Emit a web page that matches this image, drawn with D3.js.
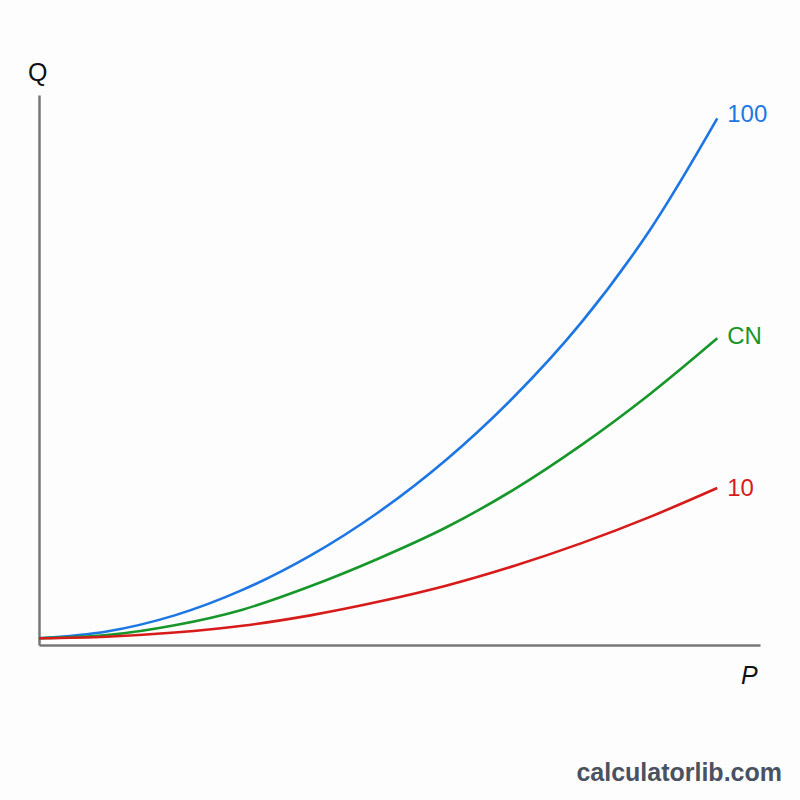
<!DOCTYPE html>
<html>
<head>
<meta charset="utf-8">
<script src="https://cdn.jsdelivr.net/npm/d3@7"></script>
<style>
  body { margin: 0; background: #fff; }
  text { font-family: "Liberation Sans", Arial, sans-serif; }
</style>
</head>
<body>
<div id="container"></div>
<script>
/* CONSTANTS AND GLOBALS */
const width = 800,
  height = 800,
  margin = { top: 95, bottom: 155, left: 39, right: 40 };

/* DATA */
const pValues = [0, 10, 20, 30, 40, 50, 60, 70, 80, 90, 100];
const q100 = [1.3, 2.6, 5.7, 10.6, 17.2, 25.5, 35.6, 47.7, 62.1, 79.7, 101.3];
const qCN  = [1.3, 1.9, 3.8, 6.8, 11.3, 16.6, 22.6, 29.9, 38.5, 48.2, 59.0];
const q10  = [1.3, 1.6, 2.4, 3.7, 5.7, 8.3, 11.4, 15.2, 19.6, 24.6, 30.2];
const seriesNames = ["100", "CN", "10"];
const seriesColors = ["#1c76e3", "#17962a", "#d71a1a"];

const series = [q100, qCN, q10].map((vals, i) => ({
  name: seriesNames[i],
  color: seriesColors[i],
  values: vals.map((q, j) => ({ p: pValues[j], q }))
}));

/* SCALES */
const xScale = d3.scaleLinear()
  .domain([0, 106.3])
  .range([margin.left, width - margin.right]);

const yScale = d3.scaleLinear()
  .domain([0, 105.8])
  .range([height - margin.bottom, margin.top]);

/* SVG */
const svg = d3.select("#container")
  .append("svg")
  .attr("width", width)
  .attr("height", height);

svg.append("rect")
  .attr("width", width)
  .attr("height", height)
  .attr("fill", "#fdfdfd");

// axes
const xAxis = d3.axisBottom(xScale).tickValues([]).tickSize(0);
svg.append("g")
  .attr("transform", `translate(0, ${yScale(0)})`)
  .call(xAxis)
  .call(g => g.select(".domain").attr("stroke", "#777").attr("stroke-width", 2.5));

const yAxis = d3.axisLeft(yScale).tickValues([]).tickSize(0);
svg.append("g")
  .attr("transform", `translate(${xScale(0)}, 0)`)
  .call(yAxis)
  .call(g => g.select(".domain").attr("stroke", "#777").attr("stroke-width", 2.5));

// axis titles
svg.append("text")
  .attr("x", xScale(0) - 11)
  .attr("y", yScale(105.8) - 14)
  .attr("font-size", 25)
  .attr("fill", "#111")
  .text("Q");

svg.append("text")
  .attr("x", xScale(106.3) - 19)
  .attr("y", yScale(0) + 39)
  .attr("font-size", 25)
  .attr("font-style", "italic")
  .attr("fill", "#111")
  .text("P");

/* LINES */
const line = d3.line()
  .x(d => xScale(d.p))
  .y(d => yScale(d.q))
  .curve(d3.curveCatmullRom);

svg.selectAll(".curve")
  .data(series)
  .join("path")
  .attr("class", "curve")
  .attr("fill", "none")
  .attr("stroke", d => d.color)
  .attr("stroke-width", 2.6)
  .attr("d", d => line(d.values));

const labelDy = [-5, -3, 0];
svg.selectAll(".label")
  .data(series)
  .join("text")
  .attr("class", "label")
  .attr("x", d => xScale(d.values[d.values.length - 1].p) + 10)
  .attr("y", (d, i) => yScale(d.values[d.values.length - 1].q) + labelDy[i])
  .attr("dy", "0.35em")
  .attr("font-size", 24)
  .attr("fill", d => d.color)
  .text(d => d.name);

// watermark
svg.append("text")
  .attr("x", 782)
  .attr("y", 781)
  .attr("text-anchor", "end")
  .attr("font-size", 25)
  .attr("font-weight", "bold")
  .attr("fill", "#4a5160")
  .text("calculatorlib.com");
</script>
</body>
</html>
